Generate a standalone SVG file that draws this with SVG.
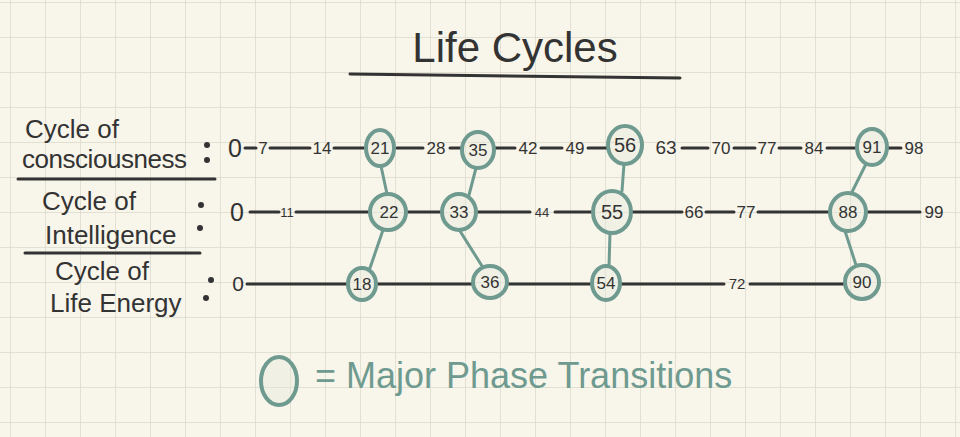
<svg xmlns="http://www.w3.org/2000/svg" width="960" height="437" viewBox="0 0 960 437">
<defs>
<pattern id="grid" width="35" height="35" patternUnits="userSpaceOnUse" x="10" y="2">
<path d="M0 0H35M0 0V35" fill="none" stroke="#dcd9cb" stroke-width="1.5"/>
</pattern>
<style>
.t{font-family:"Liberation Sans",sans-serif;fill:#333;}
.n{font-family:"Liberation Sans",sans-serif;fill:#333;text-anchor:middle;}
.c{fill:#e4e8dc;fill-opacity:.4;stroke:#6f9a90;stroke-width:4;}
.l{stroke:#333;stroke-width:3;stroke-linecap:round;}
.k{stroke:#6f9a90;stroke-width:3;stroke-linecap:round;}
</style>
</defs>
<rect width="960" height="437" fill="#f8f5ea"/>
<rect width="960" height="437" fill="url(#grid)"/>
<g id="title">
<text class="t" x="515" y="62" font-size="42" text-anchor="middle">Life Cycles</text>
<line class="l" x1="350" y1="74" x2="680" y2="78"/>
</g>
<g id="labels">
<text class="t" x="25" y="138" font-size="26">Cycle of</text>
<text class="t" x="22" y="168" font-size="26" textLength="165">consciousness</text>
<line class="l" x1="18" y1="179" x2="215" y2="179"/>
<text class="t" x="42" y="210" font-size="26">Cycle of</text>
<text class="t" x="45" y="244" font-size="26">Intelligence</text>
<line class="l" x1="25" y1="253" x2="200" y2="253"/>
<text class="t" x="55" y="280" font-size="26">Cycle of</text>
<text class="t" x="50" y="312" font-size="26">Life Energy</text>
<g fill="#333"><circle cx="207" cy="145" r="3"/><circle cx="207" cy="160" r="3"/><circle cx="201" cy="205" r="3"/><circle cx="200" cy="228" r="3"/><circle cx="211" cy="280" r="3"/><circle cx="206" cy="298" r="3"/></g>
</g>
<g id="connectors">
<g class="l">
<line x1="245" y1="148" x2="256" y2="148"/><line x1="270" y1="148" x2="310" y2="148"/><line x1="334" y1="148" x2="366" y2="148"/><line x1="397" y1="148" x2="423" y2="148"/><line x1="450" y1="148" x2="462" y2="148"/><line x1="495" y1="148" x2="515" y2="148"/><line x1="541" y1="148" x2="562" y2="148"/><line x1="588" y1="148" x2="608" y2="148"/><line x1="682" y1="148" x2="708" y2="148"/><line x1="734" y1="148" x2="755" y2="148"/><line x1="779" y1="148" x2="801" y2="148"/><line x1="827" y1="148" x2="857" y2="148"/><line x1="888" y1="148" x2="901" y2="148"/>
<line x1="250" y1="212" x2="279" y2="212"/><line x1="296" y1="212" x2="370" y2="212"/><line x1="407" y1="212" x2="442" y2="212"/><line x1="476" y1="212" x2="530" y2="212"/><line x1="555" y1="212" x2="593" y2="212"/><line x1="632" y1="212" x2="682" y2="212"/><line x1="706" y1="212" x2="734" y2="212"/><line x1="758" y1="212" x2="830" y2="212"/><line x1="866" y1="212" x2="920" y2="212"/>
<line x1="247" y1="284" x2="348" y2="284"/><line x1="377" y1="284" x2="473" y2="284"/><line x1="508" y1="284" x2="592" y2="284"/><line x1="621" y1="284" x2="724" y2="284"/><line x1="750" y1="284" x2="845" y2="284"/>
</g>
<g class="k">
<line x1="381" y1="166" x2="387" y2="194"/><line x1="476" y1="168" x2="469" y2="195"/><line x1="624" y1="164" x2="622" y2="191"/><line x1="866" y1="164" x2="851" y2="194"/>
<line x1="383" y1="230" x2="370" y2="268"/><line x1="460" y1="231" x2="482" y2="266"/><line x1="610" y1="233" x2="609" y2="266"/><line x1="845" y1="231" x2="856" y2="265"/>
</g>
</g>
<g id="circles">
<ellipse class="c" cx="380" cy="148" rx="14" ry="18"/>
<ellipse class="c" cx="478" cy="150" rx="16" ry="18"/>
<ellipse class="c" cx="625" cy="145" rx="17" ry="19"/>
<ellipse class="c" cx="872" cy="147" rx="15" ry="18"/>
<ellipse class="c" cx="388" cy="212" rx="18" ry="18"/>
<ellipse class="c" cx="459" cy="212" rx="17" ry="18"/>
<ellipse class="c" cx="612" cy="212" rx="19" ry="21"/>
<ellipse class="c" cx="848" cy="212" rx="18" ry="19"/>
<ellipse class="c" cx="362" cy="284" rx="14" ry="16"/>
<ellipse class="c" cx="490" cy="282" rx="17" ry="16"/>
<ellipse class="c" cx="606" cy="283" rx="14" ry="17"/>
<ellipse class="c" cx="862" cy="282" rx="17" ry="17"/>
</g>
<g id="row1" font-size="17">
<text class="n" x="235" y="157" font-size="25">0</text><text class="n" x="263" y="154">7</text><text class="n" x="322" y="154">14</text><text class="n" x="380" y="154">21</text><text class="n" x="436" y="154">28</text><text class="n" x="478" y="156">35</text><text class="n" x="528" y="154">42</text><text class="n" x="575" y="154">49</text><text class="n" x="625" y="152" font-size="20">56</text><text class="n" x="666" y="154" font-size="19">63</text><text class="n" x="721" y="154">70</text><text class="n" x="767" y="154">77</text><text class="n" x="814" y="154">84</text><text class="n" x="872" y="153">91</text><text class="n" x="914" y="154">98</text>
</g>
<g id="row2" font-size="17">
<text class="n" x="237" y="221" font-size="25">0</text><text class="n" x="287" y="217" font-size="13">11</text><text class="n" x="389" y="218">22</text><text class="n" x="459" y="218">33</text><text class="n" x="542" y="217" font-size="13">44</text><text class="n" x="612" y="219" font-size="20">55</text><text class="n" x="694" y="218">66</text><text class="n" x="746" y="218">77</text><text class="n" x="848" y="218">88</text><text class="n" x="934" y="218">99</text>
</g>
<g id="row3" font-size="17">
<text class="n" x="238" y="291" font-size="21">0</text><text class="n" x="362" y="290">18</text><text class="n" x="490" y="288">36</text><text class="n" x="606" y="289">54</text><text class="n" x="737" y="289" font-size="15">72</text><text class="n" x="862" y="288">90</text>
</g>
<g id="legend">
<ellipse class="c" cx="279" cy="381" rx="18" ry="24"/>
<text class="t" x="315" y="388" font-size="36" style="fill:#6f9a90">= Major Phase Transitions</text>
</g>
</svg>
